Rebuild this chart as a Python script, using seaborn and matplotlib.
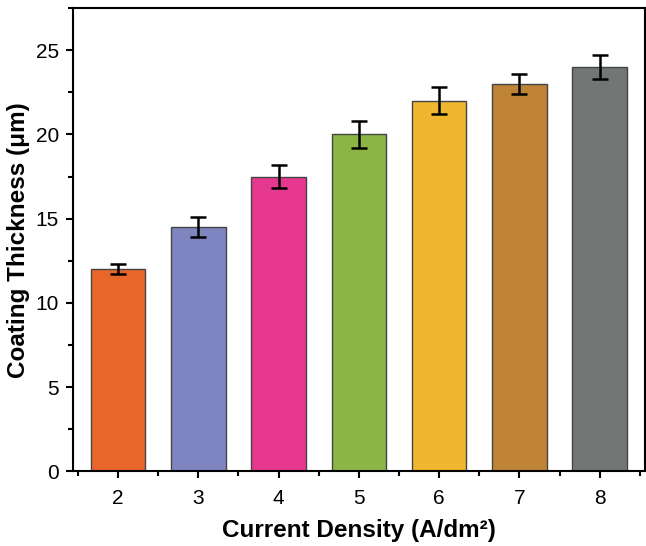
import matplotlib
matplotlib.use("Agg")
import matplotlib.pyplot as plt
import seaborn as sns
import pandas as pd
from matplotlib.ticker import MultipleLocator

density = [2, 3, 4, 5, 6, 7, 8]
thickness = [12.0, 14.5, 17.5, 20.0, 22.0, 23.0, 24.0]
errors = [0.3, 0.6, 0.7, 0.8, 0.8, 0.6, 0.7]
colors = ["#E8662A", "#7F85C0", "#E6388E", "#8BB545", "#F0B62F", "#BF8435", "#727776"]

sns.set_style("ticks")
plt.rcParams['font.family'] = ['Liberation Sans', 'DejaVu Sans']
plt.rcParams['text.color'] = 'black'
plt.rcParams['axes.labelcolor'] = 'black'

df = pd.DataFrame({"density": density, "thickness": thickness})

fig = plt.figure(figsize=(6.46, 5.46), dpi=100)
ax = fig.add_axes([0.113, 0.137, 0.885, 0.848])

sns.barplot(data=df, x="density", y="thickness", hue="density", palette=colors,
            native_scale=True, width=0.68, edgecolor="#444444", linewidth=1.0,
            saturation=1, legend=False, errorbar=None, ax=ax)
ax.errorbar(density, thickness, yerr=errors, fmt="none", ecolor="black",
            elinewidth=1.8, capsize=6, capthick=1.8)

ax.set_xlim(1.44, 8.56)
ax.set_ylim(0, 27.5)
ax.set_xticks(density)
ax.set_xticklabels([str(d) for d in density])
ax.set_xticks([1.5, 2.5, 3.5, 4.5, 5.5, 6.5, 7.5, 8.5], minor=True)
ax.yaxis.set_major_locator(MultipleLocator(5))
ax.yaxis.set_minor_locator(MultipleLocator(2.5))
ax.tick_params(axis="both", which="major", direction="out", length=5, width=1.5,
               labelsize=15, colors="black", pad=5)
ax.tick_params(axis="x", which="major", pad=8)
ax.tick_params(axis="both", which="minor", direction="out", length=3.5, width=1.5, colors="black")
for s in ax.spines.values():
    s.set_visible(True)
    s.set_linewidth(1.5)
    s.set_color("black")

ax.set_xlabel("Current Density (A/dm²)", fontsize=17.5, fontweight="bold", labelpad=8)
ax.set_ylabel("Coating Thickness (μm)", fontsize=17.5, fontweight="bold", labelpad=4)

fig.savefig("out.png", dpi=100)
